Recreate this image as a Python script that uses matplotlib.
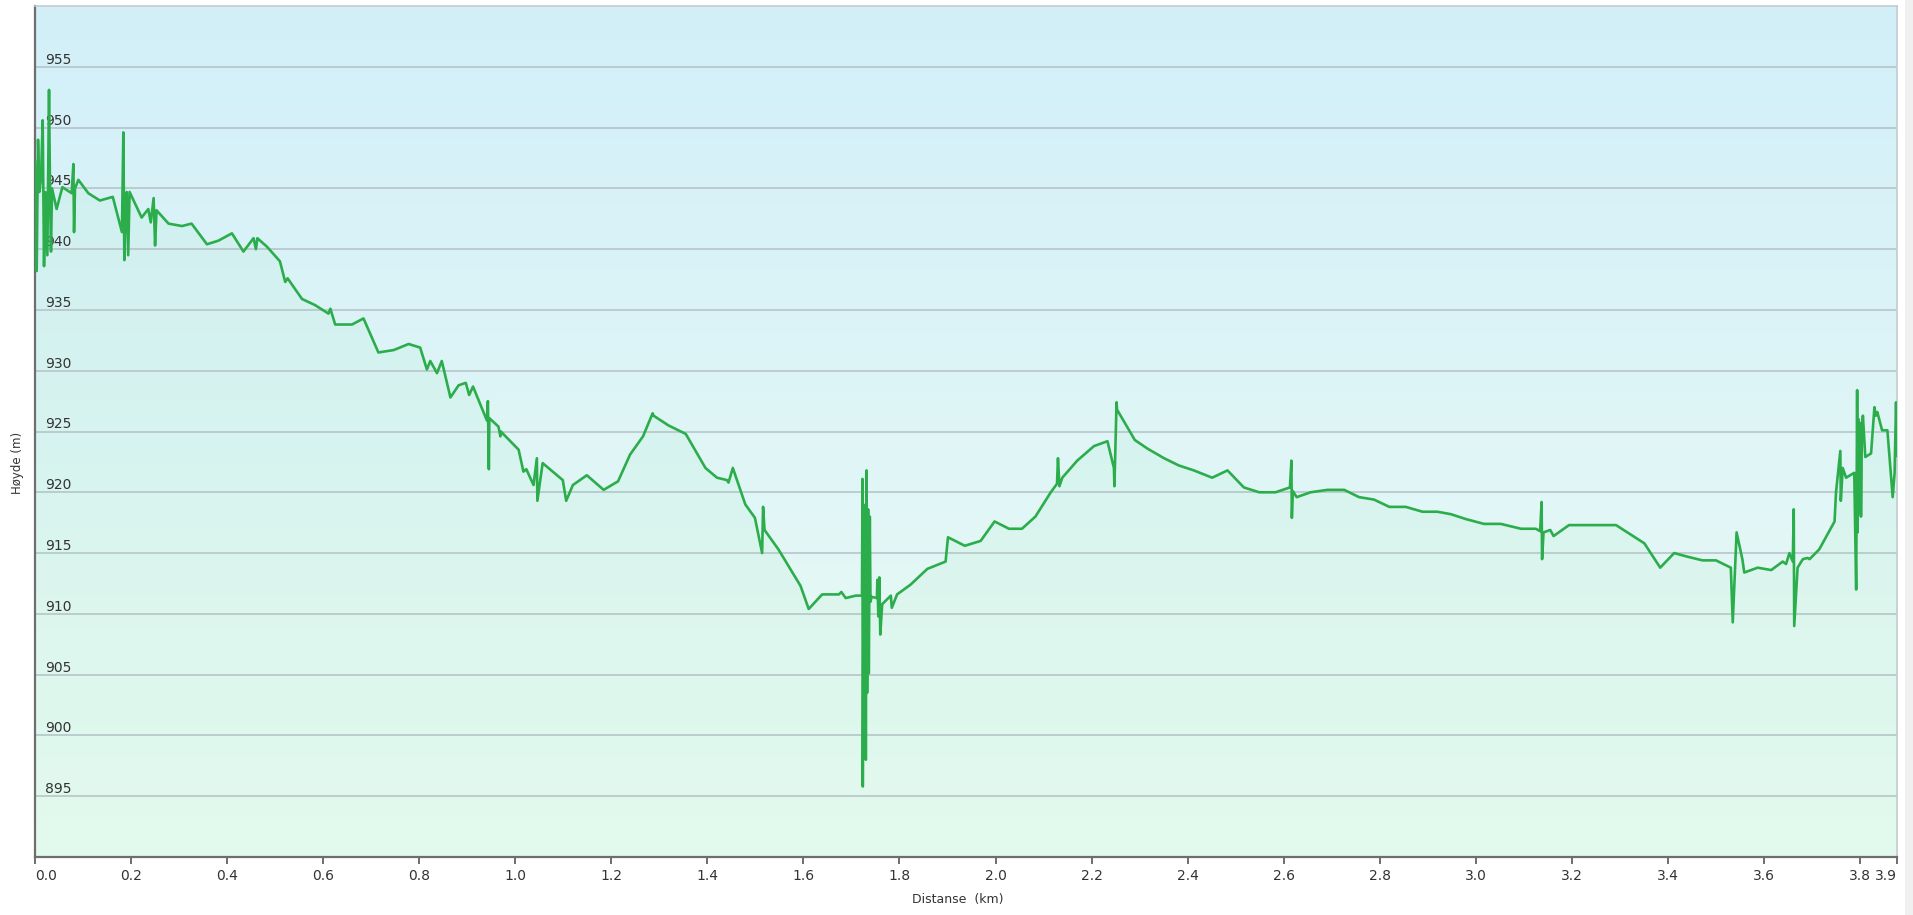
import numpy as np
import matplotlib
matplotlib.use("Agg")
import matplotlib.pyplot as plt
from matplotlib.patches import Rectangle

# elevation profile
dist_km = [
    0.0000, 0.0014, 0.0035, 0.0063, 0.0090, 0.0125, 0.0160, 0.0188, 0.0215, 0.0257,
    0.0292, 0.0313, 0.0333, 0.0354, 0.0450, 0.0570, 0.0764, 0.0799, 0.0813, 0.0833,
    0.0903, 0.1110, 0.1350, 0.1620, 0.1810, 0.1840, 0.1860, 0.1890, 0.1910, 0.1940,
    0.1970, 0.2220, 0.2360, 0.2410, 0.2470, 0.2500, 0.2530, 0.2780, 0.3060, 0.3260,
    0.3580, 0.3820, 0.4100, 0.4340, 0.4550, 0.4600, 0.4630, 0.4830, 0.5100, 0.5210,
    0.5260, 0.5560, 0.5830, 0.6110, 0.6150, 0.6250, 0.6600, 0.6840, 0.7150, 0.7470,
    0.7780, 0.8020, 0.8160, 0.8230, 0.8370, 0.8470, 0.8650, 0.8820, 0.8970, 0.9040,
    0.9120, 0.9410, 0.9430, 0.9450, 0.9460, 0.9650, 0.9690, 0.9700, 1.0070, 1.0170,
    1.0230, 1.0380, 1.0450, 1.0460, 1.0570, 1.0990, 1.1060, 1.1200, 1.1490, 1.1840,
    1.2140, 1.2390, 1.2660, 1.2860, 1.2880, 1.3190, 1.3550, 1.3960, 1.4200, 1.4410,
    1.4440, 1.4530, 1.4790, 1.4990, 1.5140, 1.5160, 1.5190, 1.5480, 1.5940, 1.6110,
    1.6390, 1.6740, 1.6790, 1.6880, 1.7090, 1.7220, 1.7229, 1.7236, 1.7257, 1.7278,
    1.7292, 1.7299, 1.7313, 1.7326, 1.7347, 1.7361, 1.7382, 1.7396, 1.7420, 1.7530,
    1.7540, 1.7560, 1.7580, 1.7600, 1.7640, 1.7820, 1.7840, 1.7950, 1.8230, 1.8580,
    1.8960, 1.9010, 1.9360, 1.9690, 1.9980, 2.0280, 2.0550, 2.0830, 2.1150, 2.1280,
    2.1300, 2.1330, 2.1390, 2.1700, 2.2050, 2.2330, 2.2465, 2.2475, 2.2520, 2.2530,
    2.2900, 2.3160, 2.3510, 2.3820, 2.4130, 2.4510, 2.4830, 2.5170, 2.5490, 2.5830,
    2.6130, 2.6160, 2.6170, 2.6190, 2.6270, 2.6560, 2.6910, 2.7260, 2.7570, 2.7880,
    2.8200, 2.8540, 2.8890, 2.9200, 2.9480, 2.9790, 3.0170, 3.0520, 3.0940, 3.1250,
    3.1340, 3.1370, 3.1380, 3.1410, 3.1550, 3.1620, 3.1940, 3.2920, 3.3510, 3.3840,
    3.4130, 3.4410, 3.4720, 3.5000, 3.5310, 3.5350, 3.5430, 3.5550, 3.5590, 3.5870,
    3.6150, 3.6390, 3.6460, 3.6530, 3.6600, 3.6620, 3.6630, 3.6700, 3.6810, 3.6910,
    3.6950, 3.7150, 3.7470, 3.7500, 3.7590, 3.7600, 3.7640, 3.7710, 3.7880, 3.7920,
    3.7940, 3.7950, 3.7970, 3.7990, 3.8010, 3.8020, 3.8040, 3.8060, 3.8110, 3.8230,
    3.8300, 3.8330, 3.8360, 3.8460, 3.8570, 3.8680, 3.8720, 3.8750, 3.8770,
]
elev_m = [
    947.2, 942.2, 938.2, 949.0, 944.7, 945.8, 950.6, 938.6, 944.7, 939.5,
    953.1, 944.7, 939.8, 945.0, 943.3, 945.1, 944.6, 947.0, 941.4, 945.0,
    945.7, 944.6, 944.0, 944.3, 941.4, 949.6, 939.1, 944.2, 944.7, 939.5,
    944.7, 942.6, 943.3, 942.2, 944.2, 940.3, 943.2, 942.1, 941.9, 942.1,
    940.4, 940.7, 941.3, 939.8, 940.9, 940.0, 940.9, 940.2, 939.0, 937.3,
    937.6, 935.9, 935.4, 934.7, 935.1, 933.8, 933.8, 934.3, 931.5, 931.7,
    932.2, 931.9, 930.1, 930.8, 929.8, 930.8, 927.8, 928.8, 929.0, 928.0,
    928.7, 925.9, 927.5, 921.9, 926.1, 925.4, 924.6, 925.0, 923.5, 921.7,
    921.9, 920.6, 922.8, 919.3, 922.4, 921.0, 919.3, 920.6, 921.4, 920.2,
    920.9, 923.1, 924.6, 926.5, 926.3, 925.5, 924.8, 922.0, 921.2, 921.0,
    920.8, 922.0, 919.0, 917.9, 915.0, 918.8, 916.9, 915.3, 912.3, 910.4,
    911.6, 911.6, 911.8, 911.3, 911.5, 911.5, 921.1, 895.8, 918.0, 903.0,
    919.0, 898.0, 921.8, 903.5, 918.6, 905.1, 918.0, 911.0, 911.4, 911.3,
    912.8, 909.8, 913.0, 908.3, 910.8, 911.5, 910.5, 911.6, 912.4, 913.7,
    914.3, 916.3, 915.6, 916.0, 917.6, 917.0, 917.0, 918.0, 920.0, 920.7,
    922.8, 920.5, 921.2, 922.6, 923.8, 924.2, 922.0, 920.5, 927.4, 926.8,
    924.3, 923.6, 922.8, 922.2, 921.8, 921.2, 921.8, 920.4, 920.0, 920.0,
    920.4, 922.6, 917.9, 920.1, 919.6, 920.0, 920.2, 920.2, 919.6, 919.4,
    918.8, 918.8, 918.4, 918.4, 918.2, 917.8, 917.4, 917.4, 917.0, 917.0,
    916.8, 919.2, 914.5, 916.7, 916.9, 916.4, 917.3, 917.3, 915.8, 913.8,
    915.0, 914.7, 914.4, 914.4, 913.8, 909.3, 916.7, 914.5, 913.4, 913.8,
    913.6, 914.3, 914.1, 915.0, 914.3, 918.6, 909.0, 913.8, 914.5, 914.6,
    914.5, 915.3, 917.6, 920.0, 923.4, 919.3, 922.0, 921.2, 921.6, 912.0,
    928.4, 916.7, 926.0, 918.3, 925.7, 918.0, 925.3, 926.3, 922.9, 923.2,
    927.0, 926.3, 926.6, 925.1, 925.1, 919.6, 921.6, 927.4, 923.0,
]

y_ticks = [895, 900, 905, 910, 915, 920, 925, 930, 935, 940, 945, 950, 955]
x_ticks = [0.0, 0.2, 0.4, 0.6, 0.8, 1.0, 1.2, 1.4, 1.6, 1.8, 2.0,
           2.2, 2.4, 2.6, 2.8, 3.0, 3.2, 3.4, 3.6, 3.8]
x_end = 3.877

fig = plt.figure(figsize=(19.13, 9.15), dpi=100)
fig.patch.set_facecolor("white")
ax = fig.add_axes([35 / 1913, 1 - 857 / 915, 1862 / 1913, 851 / 915])

# sky-like vertical gradient behind the plot
top = np.array([210, 239, 249]) / 255
bot = np.array([236, 252, 244]) / 255
t = np.linspace(0, 1, 256)[:, None]
grad = (top * (1 - t) + bot * t)[:, None, :]
ax.imshow(grad, extent=[0, x_end, 890, 960], aspect="auto", zorder=0,
          interpolation="bicubic")

ax.fill_between(dist_km, elev_m, 890, color="#8ee6b0", alpha=0.09, lw=0, zorder=1)
for yv in y_ticks:
    ax.axhline(yv, color="#b3c1c5", lw=1.1, zorder=2)
ax.plot(dist_km, elev_m, color="#2cad4c", lw=1.9, zorder=3)

ax.set_xlim(0, x_end)
ax.set_ylim(890, 960)

ax.set_xticks(x_ticks + [x_end])
ax.set_xticklabels([f"{v:.1f}" for v in x_ticks] + ["3.9"])
ax.tick_params(axis="x", direction="out", length=5, width=1.2, color="#555555",
               labelsize=10, labelcolor="#333333", pad=4)
xl = ax.get_xticklabels()
xl[0].set_horizontalalignment("left")
xl[-1].set_horizontalalignment("right")

ax.set_yticks(y_ticks)
ax.set_yticklabels([str(v) for v in y_ticks])
ax.tick_params(axis="y", length=0, pad=-7, labelsize=10, labelcolor="#333333")
for lbl in ax.get_yticklabels():
    lbl.set_horizontalalignment("left")
    lbl.set_verticalalignment("bottom")

for side in ["left", "bottom"]:
    ax.spines[side].set_color("#6e6e6e")
    ax.spines[side].set_linewidth(1.6)
for side in ["top", "right"]:
    ax.spines[side].set_color("#c3cbd0")
    ax.spines[side].set_linewidth(1.2)

fig.text(18 / 1913, 1 - 463 / 915, "Høyde (m)", rotation=90, ha="center", va="center",
         fontsize=8.5, color="#333333")
fig.text(958 / 1913, 1 - 899 / 915, "Distanse  (km)", ha="center", va="center",
         fontsize=9, color="#333333")

# light strip on the right edge like the original page
fig.patches.append(Rectangle((1905 / 1913, 0), 8 / 1913, 1, transform=fig.transFigure,
                             facecolor="#f0f0f0", edgecolor="none"))

fig.savefig("out.png", dpi=100)
